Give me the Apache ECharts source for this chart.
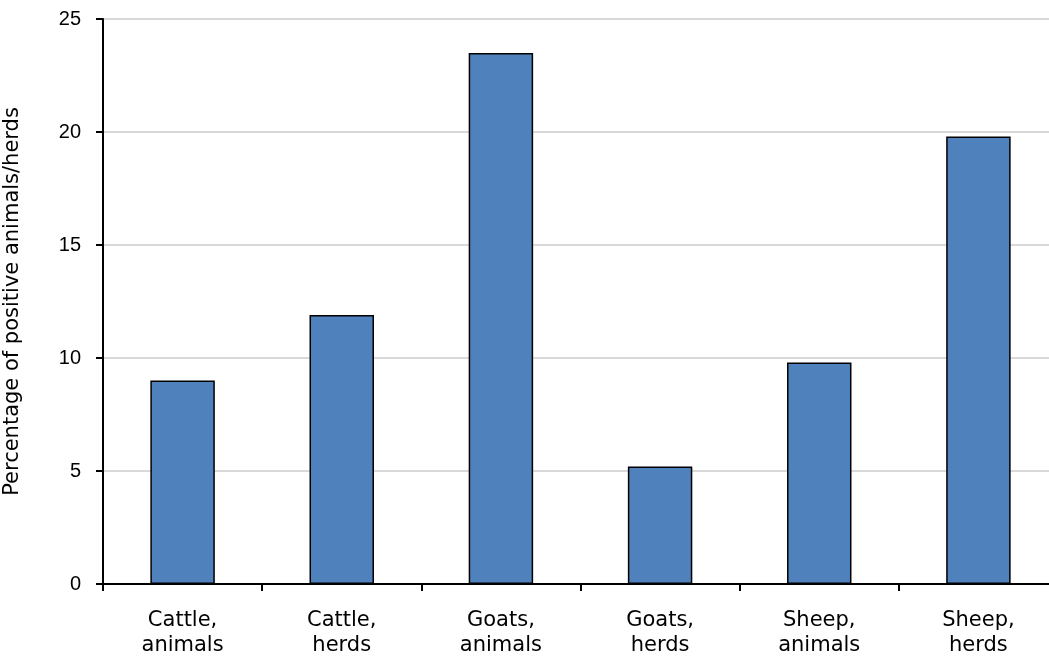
<!DOCTYPE html>
<html><head><meta charset="utf-8">
<script src="https://cdn.jsdelivr.net/npm/echarts@6/dist/echarts.min.js"></script>
<style>html,body{margin:0;padding:0;background:#fff;overflow:hidden;width:1049px;height:662px}#c{width:1058px;height:662px}</style>
</head><body><div id="c"></div>
<script>
const categories = ["Cattle,\nanimals", "Cattle,\nherds", "Goats,\nanimals", "Goats,\nherds", "Sheep,\nanimals", "Sheep,\nherds"];
const values = [9.0, 11.9, 23.5, 5.2, 9.8, 19.8];
const yTicks = [0, 5, 10, 15, 20, 25];
const yTitle = "Percentage of positive animals/herds";

const chart = echarts.init(document.getElementById('c'), null, {renderer: 'canvas'});
chart.setOption({
  animation: false,
  grid: {left: 103, top: 19, bottom: 78, right: 0, containLabel: false, outerBoundsMode: 'none'},
  xAxis: {
    type: 'category', data: categories,
    axisLine: {lineStyle: {color: '#000', width: 2}},
    axisTick: {show: true, length: 7, lineStyle: {color: '#000', width: 2}},
    axisLabel: {color: '#000', fontSize: 21, fontFamily: 'DejaVu Sans', margin: 24, lineHeight: 25, interval: 0}
  },
  yAxis: {
    type: 'value', min: yTicks[0], max: yTicks[yTicks.length-1], interval: 5,
    name: yTitle, nameLocation: 'middle', nameGap: 80, nameRotate: 90,
    nameTextStyle: {color: '#000', fontSize: 21, fontFamily: 'DejaVu Sans'},
    axisLine: {show: true, lineStyle: {color: '#000', width: 2}},
    axisTick: {show: true, length: 7, lineStyle: {color: '#000', width: 2}},
    axisLabel: {color: '#000', fontSize: 20, fontFamily: 'Liberation Sans, Arial, sans-serif', margin: 22},
    splitLine: {show: true, lineStyle: {color: '#d9d9d9', width: 2}}
  },
  series: [{
    type: 'bar', data: values, barWidth: '40.5%',
    itemStyle: {color: '#4f81bd', borderColor: '#000', borderWidth: 1.5}
  }]
});
</script></body></html>
